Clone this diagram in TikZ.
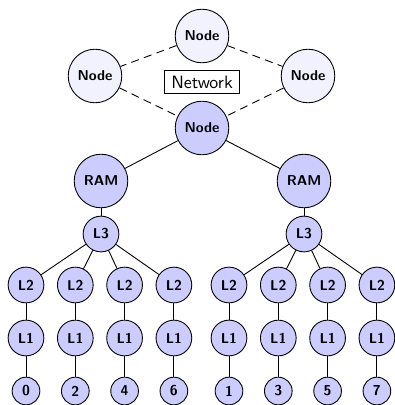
\documentclass[tikz,border=0pt]{standalone}
\begin{document}
\begin{tikzpicture}[x=0.56pt, y=-0.56pt, line width=0.5pt,
  big/.style={circle, draw, fill=blue!20, minimum size=30pt, inner sep=0pt, font=\sffamily\bfseries\footnotesize},
  net/.style={big, fill=blue!5},
  mid/.style={big, minimum size=20pt},
  leaf/.style={big, minimum size=15.5pt},
  link/.style={dash pattern=on 4.5pt off 3pt}]
\useasboundingbox (0,0) rectangle (395,405);
% network ring
\node[net] (top) at (202,36) {Node};
\node[net] (west) at (95,76) {Node};
\node[net] (east) at (308,76) {Node};
\node[big] (root) at (202,128) {Node};
\node[draw, font=\sffamily, inner sep=1pt, minimum width=42pt, minimum height=13pt] (netlabel) at (202,82) {Network};
\draw[link] (top) -- (west);
\draw[link] (top) -- (east);
\draw[link] (west) -- (root);
\draw[link] (east) -- (root);
% two memory trees
\foreach \s/\cx/\off in {a/101/0, b/304/1} {
  \node[big] (ram\s) at (\cx,181) {RAM};
  \node[mid] (ltri\s) at (\cx,234) {L3};
  \draw (root) -- (ram\s);
  \draw (ram\s) -- (ltri\s);
  \foreach \i in {0,...,3} {
    \pgfmathsetmacro\xx{\cx-75+49.3*\i}
    \pgfmathtruncatemacro\lbl{2*\i+\off}
    \node[mid] (ltwo\s\i) at (\xx,285) {L2};
    \node[mid] (lone\s\i) at (\xx,338) {L1};
    \node[leaf] (core\s\i) at (\xx,391) {\lbl};
    \draw (ltri\s) -- (ltwo\s\i);
    \draw (ltwo\s\i) -- (lone\s\i);
    \draw (lone\s\i) -- (core\s\i);
  }
}
\end{tikzpicture}
\end{document}
